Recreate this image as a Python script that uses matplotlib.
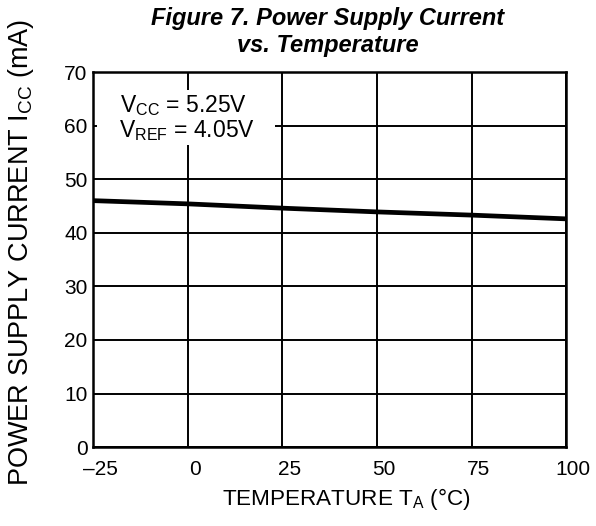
import matplotlib
matplotlib.use("Agg")
import matplotlib.pyplot as plt
from matplotlib.patches import Rectangle
from matplotlib.transforms import ScaledTranslation

plt.rcParams['font.family'] = ['Liberation Sans', 'DejaVu Sans']
plt.rcParams['mathtext.fontset'] = 'custom'
plt.rcParams['mathtext.rm'] = 'Liberation Sans'
plt.rcParams['mathtext.it'] = 'Liberation Sans:italic'

# Data
temperature = [-25, 0, 25, 50, 75, 100]
icc_ma = [46.0, 45.4, 44.6, 43.9, 43.3, 42.6]
x_ticks = [-25, 0, 25, 50, 75, 100]
x_tick_labels = ['–25', '0', '25', '50', '75', '100']
y_ticks = [0, 10, 20, 30, 40, 50, 60, 70]

fig = plt.figure(figsize=(5.96, 5.26), dpi=100)
ax = fig.add_axes([0.156, 0.150, 0.794, 0.713])

ax.plot(temperature, icc_ma, color='black', linewidth=3.4, solid_capstyle='butt', zorder=4)

ax.set_xlim(-25, 100)
ax.set_ylim(0, 70)
ax.set_xticks(x_ticks)
ax.set_xticklabels(x_tick_labels)
ax.set_yticks(y_ticks)
ax.tick_params(axis='both', length=0, labelsize=15, colors='black')
ax.tick_params(axis='x', pad=9)
ax.tick_params(axis='y', pad=4)
offset = ScaledTranslation(7 / 100, 0, fig.dpi_scale_trans)
for lab in ax.get_xticklabels():
    lab.set_transform(lab.get_transform() + offset)
ax.grid(True, color='black', linewidth=1.4)
ax.set_axisbelow(True)
for s in ax.spines.values():
    s.set_linewidth(1.8)
    s.set_zorder(5)

# white backdrop of annotation
ax.add_patch(Rectangle((0.008, 0.805), 0.376, 0.147, transform=ax.transAxes,
                       facecolor='white', edgecolor='none', zorder=3))
ax.text(0.057, 0.893, r'V$_{\mathregular{CC}}$ = 5.25V',
        transform=ax.transAxes, ha='left', va='baseline', fontsize=16.5, zorder=6)
ax.text(0.055, 0.827, r'V$_{\mathregular{REF}}$ = 4.05V',
        transform=ax.transAxes, ha='left', va='baseline', fontsize=16.5, zorder=6)

fig.text(0.550, 0.964, 'Figure 7. Power Supply Current', ha='center', va='center',
         fontsize=17, fontweight='bold', fontstyle='italic')
fig.text(0.550, 0.914, 'vs. Temperature', ha='center', va='center',
         fontsize=17, fontweight='bold', fontstyle='italic')

fig.text(0.035, 0.521, r'POWER SUPPLY CURRENT I$_{\mathregular{CC}}$ (mA)', fontsize=19.5,
         rotation=90, ha='center', va='center')
fig.text(0.581, 0.040, r'TEMPERATURE T$_{\mathregular{A}}$ (°C)', fontsize=16.2,
         ha='center', va='baseline')

fig.savefig('out.png', dpi=100, facecolor='white')
